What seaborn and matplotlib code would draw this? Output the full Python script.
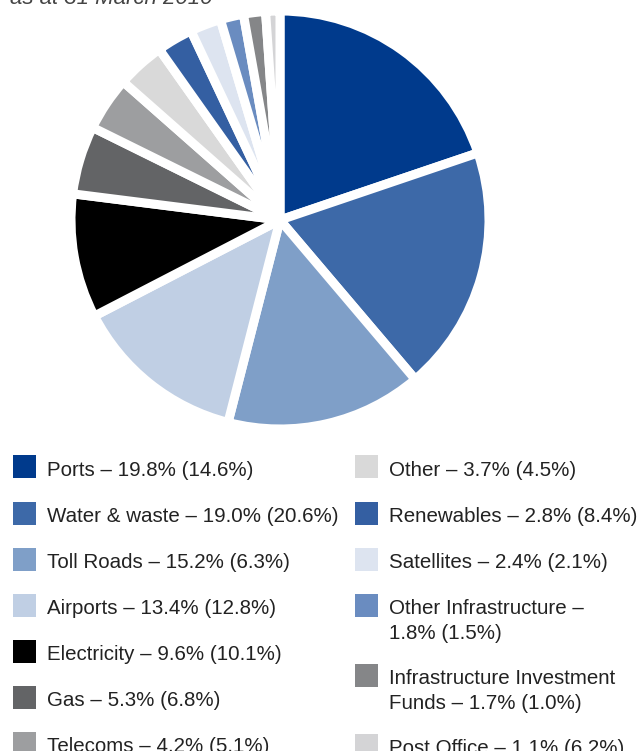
import matplotlib
matplotlib.use("Agg")
import matplotlib.pyplot as plt
import seaborn as sns
from matplotlib.patches import Rectangle

# sectors, share at 31 March 2010 and (prior year) share
sectors = ['Ports', 'Water & waste', 'Toll Roads', 'Airports', 'Electricity', 'Gas',
           'Telecoms', 'Other', 'Renewables', 'Satellites', 'Other Infrastructure',
           'Infrastructure Investment Funds', 'Post Office']
share_2010 = [19.8, 19.0, 15.2, 13.4, 9.6, 5.3, 4.2, 3.7, 2.8, 2.4, 1.8, 1.7, 1.1]
share_2009 = [14.6, 20.6, 6.3, 12.8, 10.1, 6.8, 5.1, 4.5, 8.4, 2.1, 1.5, 1.0, 6.2]
sector_colors = ['#003a8c', '#3d69a8', '#7f9fc8', '#c0cfe4', '#000000', '#636466',
                 '#9d9ea0', '#d9d9d9', '#345fa2', '#dde4f0', '#6a8cc0', '#858688', '#d4d4d6']

sns.set_style("white")
plt.rcParams['font.family'] = ['Liberation Sans', 'DejaVu Sans']

W, H = 639, 751
fig = plt.figure(figsize=(W / 100, H / 100), dpi=100)

def fx(px):
    return px / W

def fy(py):
    return 1 - py / H

# pie
palette = sns.color_palette(sector_colors)
ax = fig.add_axes([fx(71), fy(429), fx(418), 418 / H])
ax.pie(share_2010, colors=palette, startangle=90, counterclock=False,
       wedgeprops=dict(edgecolor='white', linewidth=6.5, joinstyle='round'))
ax.set_xlim(-1, 1)
ax.set_ylim(-1, 1)
ax.set_aspect('equal')
ax.axis('off')

# title (partly cut at the top in the original)
fig.text(fx(10), fy(4), 'as at 31 March 2010', fontsize=16, style='italic',
         color='#444444', va='baseline', ha='left')

# legend, two columns
breaks = {'Other Infrastructure': 'Other Infrastructure –\n{v}% ({p}%)',
          'Infrastructure Investment Funds': 'Infrastructure Investment\nFunds – {v}% ({p}%)'}
labels = []
for name, v, p in zip(sectors, share_2010, share_2009):
    fmt = breaks.get(name, name + ' – {v}% ({p}%)')
    labels.append(fmt.format(v=f'{v:.1f}', p=f'{p:.1f}'))

text_color = '#222222'
col_x = [(13, 47), (355, 389)]
n_left = 7
for col, idx in enumerate([range(0, n_left), range(n_left, len(sectors))]):
    sq_x, tx = col_x[col]
    y = 467
    for i in idx:
        lines = labels[i].split('\n')
        fig.add_artist(Rectangle((fx(sq_x), fy(y + 11.5)), fx(23), 23 / H,
                                 transform=fig.transFigure, facecolor=sector_colors[i],
                                 edgecolor='none'))
        for k, line in enumerate(lines):
            fig.text(fx(tx), fy(y + 9 + 25 * k), line, fontsize=14.8, color=text_color,
                     va='baseline', ha='left')
        y += 46 + 24 * (len(lines) - 1)

fig.savefig('out.png', dpi=100)
